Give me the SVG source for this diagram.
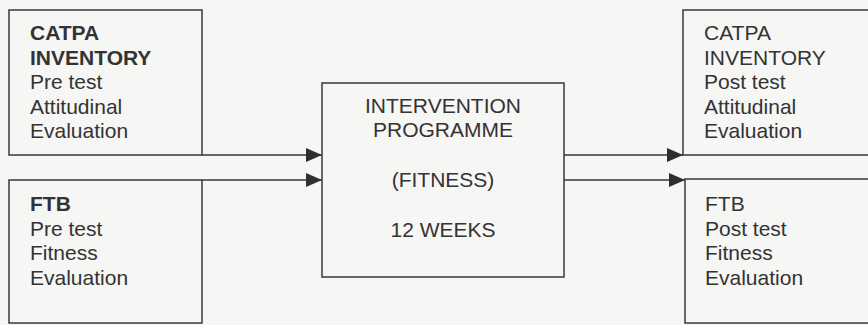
<svg xmlns="http://www.w3.org/2000/svg" width="868" height="325" viewBox="0 0 868 325">
<defs>
<style>
.box{fill:none;stroke:#3a3838;stroke-width:1.5}
.ln{stroke:#3a3838;stroke-width:1.5;fill:none}
text{font-family:"Liberation Sans",Arial,sans-serif;font-size:21px;fill:#333333}
.b{font-weight:bold}
.c{text-anchor:middle}
</style>
<marker id="ah" viewBox="0 0 16 14" refX="16" refY="7" markerWidth="16" markerHeight="14" markerUnits="userSpaceOnUse" orient="auto">
<path d="M0,0 L16,7 L0,14 Z" fill="#2e2e2e"/>
</marker>
</defs>
<rect width="868" height="325" fill="#f6f6f4"/>
<g id="pre-catpa">
<rect class="box" x="9" y="10" width="193" height="145"/>
<text x="30" y="40" class="b">CATPA</text>
<text x="30" y="64.5" class="b">INVENTORY</text>
<text x="30" y="89">Pre test</text>
<text x="30" y="113.5">Attitudinal</text>
<text x="30" y="138">Evaluation</text>
</g>
<g id="pre-ftb">
<rect class="box" x="9" y="180" width="193" height="143"/>
<text x="30" y="211" class="b">FTB</text>
<text x="30" y="235.5">Pre test</text>
<text x="30" y="260">Fitness</text>
<text x="30" y="284.5">Evaluation</text>
</g>
<g id="intervention">
<rect class="box" x="322" y="83" width="242" height="194"/>
<text x="443" y="112.5" class="c">INTERVENTION</text>
<text x="443" y="137" class="c">PROGRAMME</text>
<text x="443" y="187" class="c">(FITNESS)</text>
<text x="443" y="237" class="c">12 WEEKS</text>
</g>
<g id="post-catpa">
<rect class="box" x="683" y="10" width="200" height="145"/>
<text x="704" y="40">CATPA</text>
<text x="704" y="64.5">INVENTORY</text>
<text x="704" y="89">Post test</text>
<text x="704" y="113.5">Attitudinal</text>
<text x="704" y="138">Evaluation</text>
</g>
<g id="post-ftb">
<rect class="box" x="685" y="179" width="200" height="144"/>
<text x="705" y="211">FTB</text>
<text x="705" y="235.5">Post test</text>
<text x="705" y="260">Fitness</text>
<text x="705" y="284.5">Evaluation</text>
</g>
<g id="connectors">
<line class="ln" x1="202" y1="155" x2="322" y2="155" marker-end="url(#ah)"/>
<line class="ln" x1="202" y1="180" x2="322" y2="180" marker-end="url(#ah)"/>
<line class="ln" x1="564" y1="155" x2="683" y2="155" marker-end="url(#ah)"/>
<line class="ln" x1="564" y1="180" x2="685" y2="180" marker-end="url(#ah)"/>
</g>
</svg>
